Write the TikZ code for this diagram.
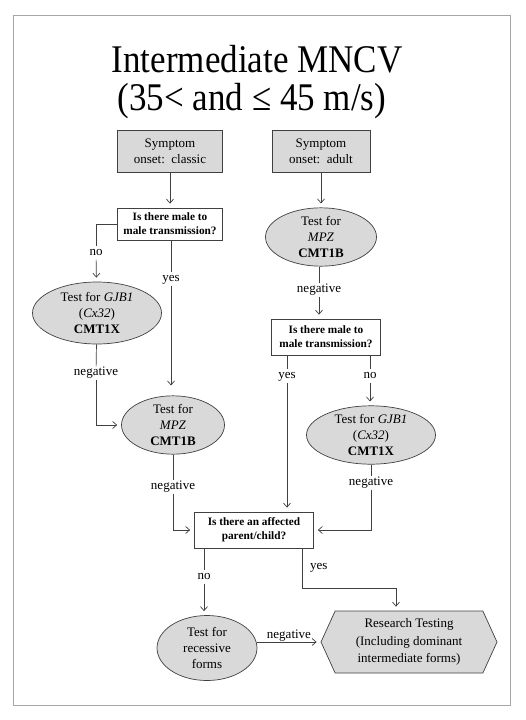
\documentclass[tikz,border=0pt]{standalone}
\usepackage{fontspec}
\setmainfont{Liberation Serif}
\usepackage{tikz}
\usetikzlibrary{arrows.meta,shapes.geometric,shapes.symbols,positioning}

\begin{document}
\begin{tikzpicture}[
  x=1pt, y=-1pt,
  line/.style={draw=black!75, line width=0.7pt},
  arr/.style={line, -{Straight Barb[length=4pt,width=7pt]}, shorten >=4pt},
  onset/.style={rectangle, draw=black!75, line width=0.7pt, fill=gray!30, font=\fontsize{13}{16}\selectfont, align=center, inner sep=0pt},
  ask/.style={rectangle, draw=black!75, line width=0.7pt, fill=white, font=\fontsize{11.3}{14}\selectfont\bfseries, align=center, inner sep=0pt},
  test/.style={ellipse, draw=black!75, line width=0.7pt, fill=gray!30, font=\fontsize{13}{16}\selectfont, align=center, inner sep=0pt},
  lbl/.style={font=\fontsize{13}{16}\selectfont, inner sep=2pt, text height=1.6ex, text depth=.3ex}
]
\useasboundingbox (0,0) rectangle (526,720);
\draw[draw=gray!70, line width=1pt] (13,15) rectangle (510,705);

\node[anchor=base, align=center, font=\fontsize{35}{38}\selectfont] (title) at (257,110)
  {\scalebox{1}[1.12]{Intermediate MNCV}\\\scalebox{1}[1.12]{(35< and ≤ 45 m/s)}\hspace*{10pt}};

\node[onset, minimum width=105pt, minimum height=42pt] (classic) at (170,151) {Symptom\\onset:\ \ classic};
\node[onset, minimum width=98pt, minimum height=42pt] (adult) at (321,151) {Symptom\\onset:\ \ adult};

\node[ask, minimum width=105pt, minimum height=32pt] (male1) at (170,224) {Is there male to\\male transmission?};
\node[test, minimum width=111pt, minimum height=50pt] (mpzR) at (321,237) {Test for\\\textit{MPZ}\\\textbf{CMT1B}};

\node[test, minimum width=129pt, minimum height=62pt] (gjbL) at (97,313) {Test for \textit{GJB1}\\(\textit{Cx32})\\\textbf{CMT1X}};
\node[test, minimum width=103pt, minimum height=57pt] (mpzL) at (173,425) {Test for\\\textit{MPZ}\\\textbf{CMT1B}};

\node[ask, minimum width=109pt, minimum height=36pt] (male2) at (326,337) {Is there male to\\male transmission?};
\node[test, minimum width=129pt, minimum height=58pt] (gjbR) at (371,435) {Test for \textit{GJB1}\\(\textit{Cx32})\\\textbf{CMT1X}};

\node[ask, minimum width=119pt, minimum height=36pt] (affected) at (254,530) {Is there an affected\\parent/child?};

\node[test, minimum width=100pt, minimum height=65pt] (recessive) at (207,648) {Test for\\recessive\\forms};
\node[signal, signal to=west and east, signal pointer angle=131, draw=black!75, line width=0.7pt, fill=gray!30,
  font=\fontsize{13}{17.5}\selectfont, align=center, inner sep=0pt, minimum width=176pt, minimum height=62pt] (research) at (409,642) {Research Testing\\(Including dominant\\intermediate forms)};

\node[lbl] (no1) at (96,253) {no};
\node[lbl] (yes1) at (171,279) {yes};
\node[lbl] (neg1) at (96,373) {negative};
\node[lbl] (neg2) at (319,290) {negative};
\node[lbl] (yes2) at (287,376) {yes};
\node[lbl] (no2) at (370,376) {no};
\node[lbl] (neg3) at (371,483) {negative};
\node[lbl] (neg4) at (173,487) {negative};
\node[lbl] (no3) at (204,577) {no};
\node[lbl, anchor=west] (yes3) at (308,567) {yes};
\coordinate (bend) at (302,588);

\draw[arr] (classic) -- (male1);
\draw[arr] (adult) -- (adult |- mpzR.north);
\draw[line] (male1.west) -| (no1);
\draw[arr] (no1) -- (gjbL);
\draw[line] (yes1 |- male1.south) -- (yes1);
\draw[arr, shorten >=10pt] (yes1) -- (yes1 |- mpzL.north);
\draw[line] (gjbL) -- (neg1);
\draw[arr] (neg1) |- (mpzL.west);
\draw[line] (neg2 |- mpzR.south) -- (neg2);
\draw[arr] (neg2) -- (neg2 |- male2.north);
\draw[line] (yes2 |- male2.south) -- (yes2);
\draw[arr] (yes2) -- (yes2 |- affected.north);
\draw[line] (no2 |- male2.south) -- (no2);
\draw[arr] (no2) -- (no2 |- gjbR.north);
\draw[line] (gjbR) -- (neg3);
\draw[arr] (neg3) |- (affected.east);
\draw[line] (mpzL) -- (neg4);
\draw[arr] (neg4) |- (affected.west);
\draw[line] (no3 |- affected.south) -- (no3);
\draw[arr] (no3) -- (no3 |- recessive.north);
\draw[arr] (bend |- affected.south) -- (bend) -| ([xshift=-13pt]research.north);
\draw[arr] (recessive.east |- research.west) -- node[lbl, above] {negative} (research.west);
\end{tikzpicture}
\end{document}
